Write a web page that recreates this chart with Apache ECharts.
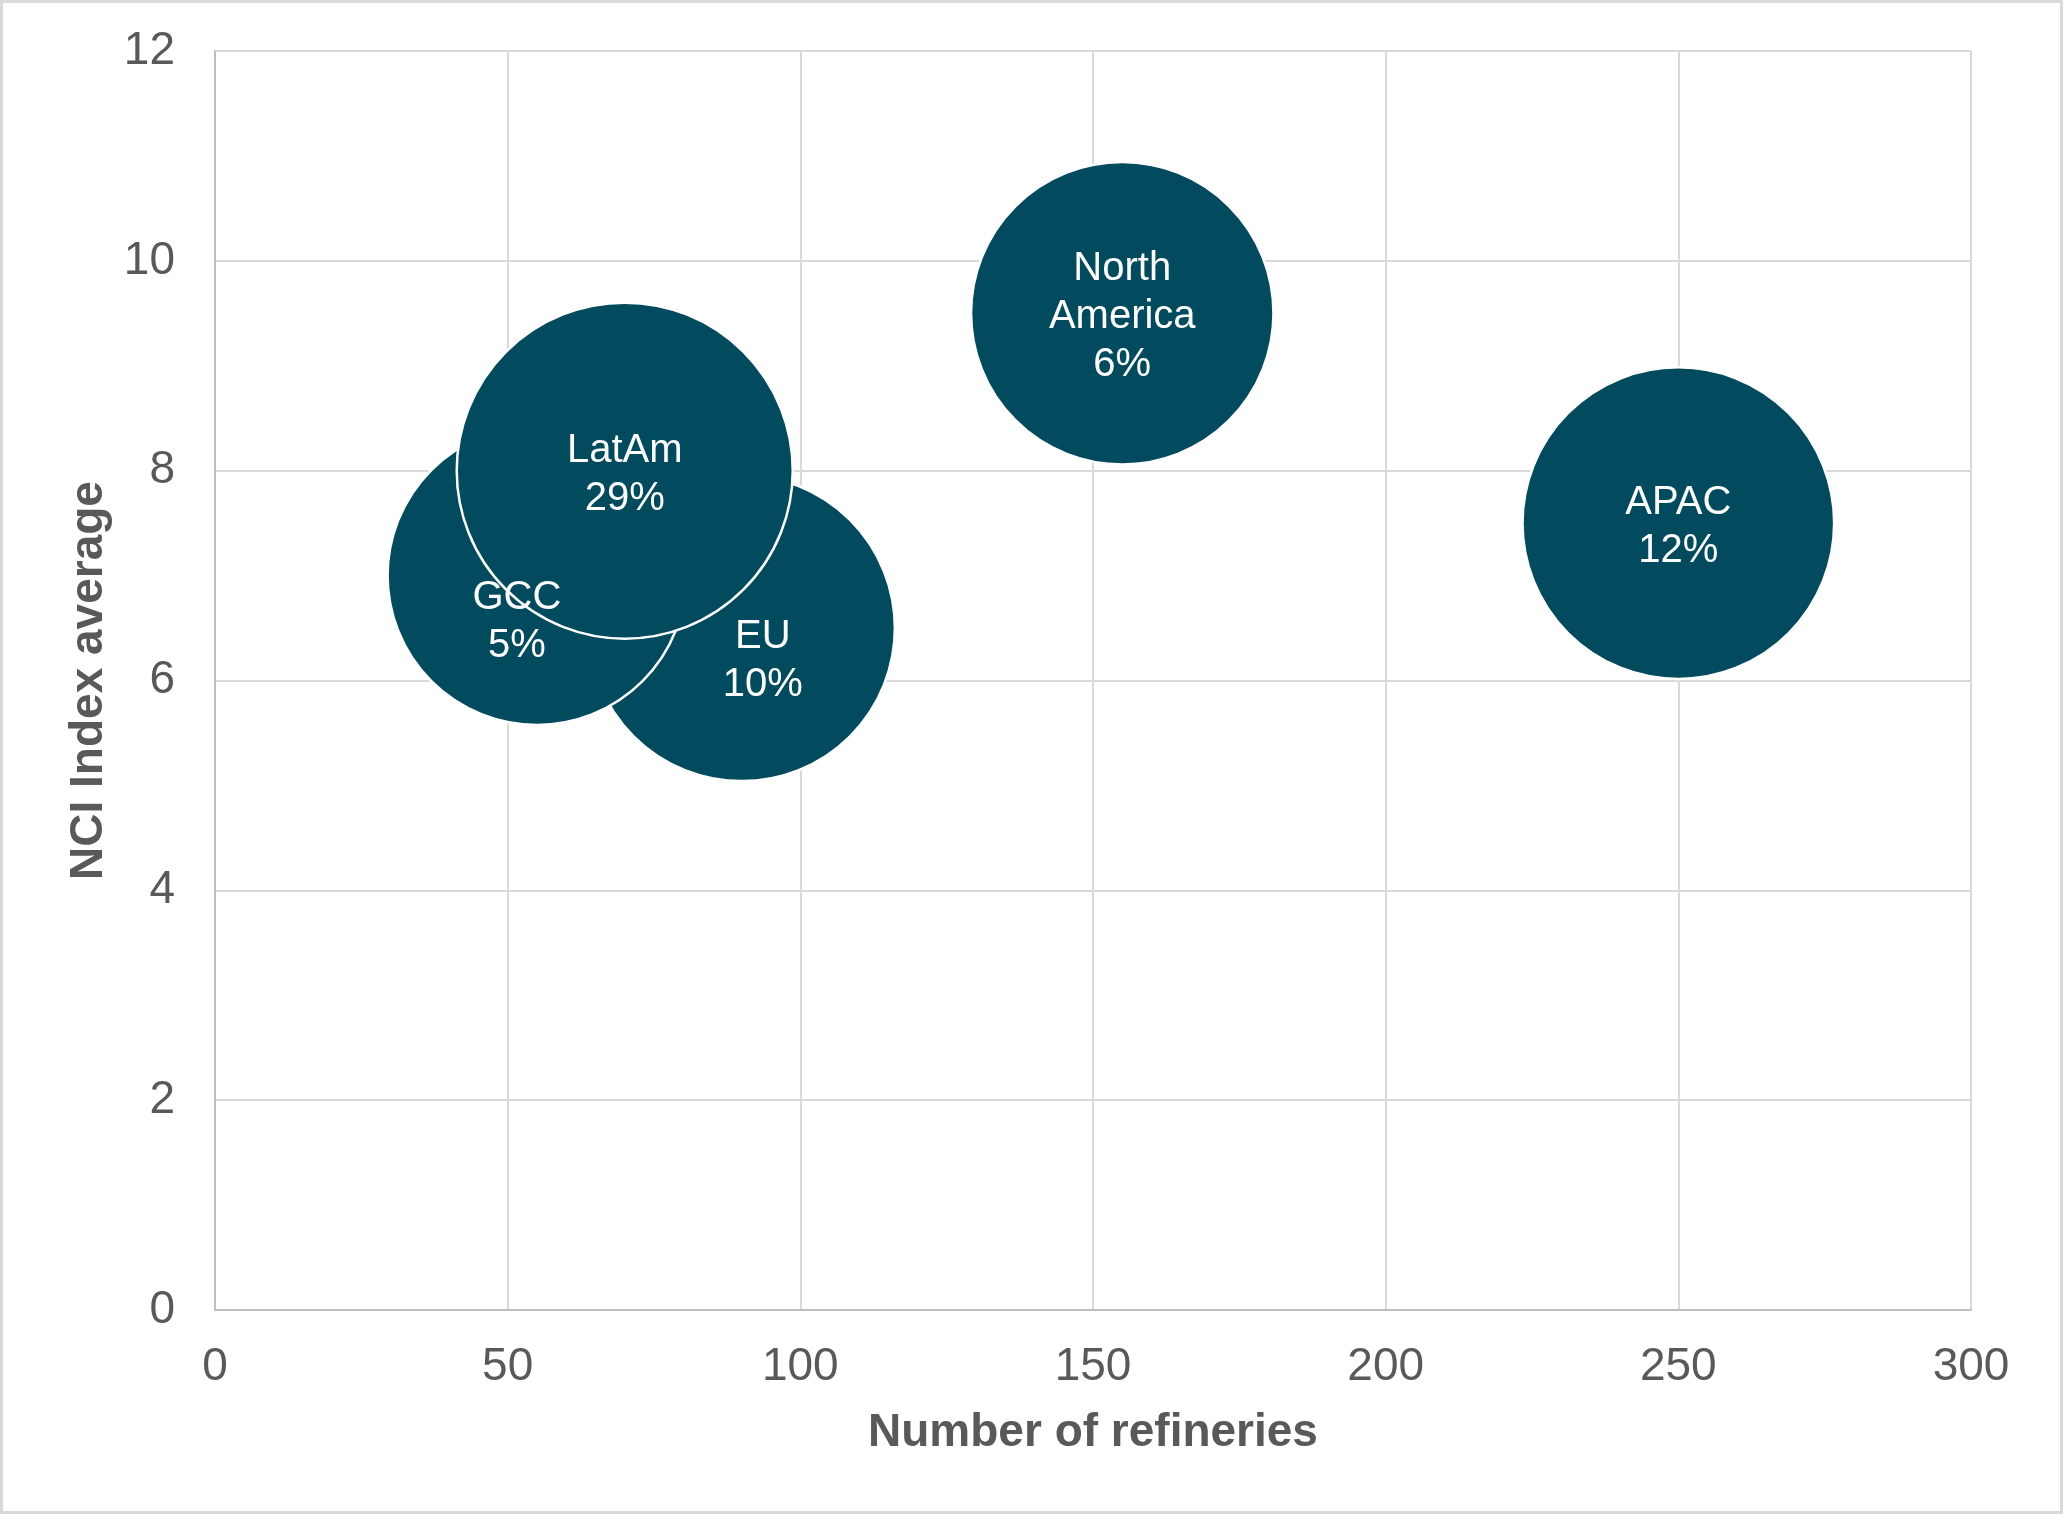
<!DOCTYPE html>
<html>
<head>
<meta charset="utf-8">
<script src="https://cdn.jsdelivr.net/npm/echarts@6/dist/echarts.min.js"></script>
<style>
  html, body { margin: 0; padding: 0; background: #fff; }
  #chart { width: 2063px; height: 1514px; }
</style>
</head>
<body>
<div id="chart"></div>
<script>
// regions, drawn in this order (later ones sit on top)
const regions = ['EU', 'GCC', 'LatAm', 'North America', 'APAC'];
const refineries = [90, 55, 70, 155, 250];
const nciAverage = [6.5, 7, 8, 9.5, 7.5];
const sharePct = [10, 5, 29, 6, 12];
const bubbleSize = [83, 79, 100, 81, 86];

const xTicks = [0, 50, 100, 150, 200, 250, 300];
const yTicks = [0, 2, 4, 6, 8, 10, 12];

// a couple of labels were nudged off-centre in the original
const labelNudge = { EU: [21, 33], GCC: [-20, 46] };

const BUBBLE = '#024A5E';
const TEXT = '#595959';
const FONT = '"Liberation Sans", Arial, sans-serif';
const MAX_D = 336;
const maxSize = Math.max(...bubbleSize);

const points = regions.map((name, i) => ({
  name: name,
  value: [refineries[i], nciAverage[i], bubbleSize[i], sharePct[i]],
  label: { offset: labelNudge[name] || [0, 4] }
}));

const chart = echarts.init(document.getElementById('chart'));
chart.setOption({
  animation: false,
  backgroundColor: '#fff',
  textStyle: { fontFamily: FONT },
  graphic: [{
    type: 'rect',
    shape: { x: 1.5, y: 1.5, width: 2060, height: 1511 },
    style: { fill: 'none', stroke: '#d9d9d9', lineWidth: 3 },
    silent: true
  }],
  grid: { left: 215, right: 92, top: 51, bottom: 204, outerBoundsMode: 'none' },
  xAxis: {
    type: 'value',
    min: xTicks[0],
    max: xTicks[xTicks.length - 1],
    interval: xTicks[1] - xTicks[0],
    name: 'Number of refineries',
    nameLocation: 'middle',
    nameGap: 100,
    nameTextStyle: { fontSize: 46, fontWeight: 'bold', color: TEXT, fontFamily: FONT },
    axisLine: { show: true, onZero: false, lineStyle: { color: '#bfbfbf', width: 2 } },
    axisTick: { show: false },
    axisLabel: { fontSize: 46, color: TEXT, margin: 34, fontFamily: FONT, lineHeight: 46 },
    splitLine: { show: true, lineStyle: { color: '#d9d9d9', width: 2 } }
  },
  yAxis: {
    type: 'value',
    min: yTicks[0],
    max: yTicks[yTicks.length - 1],
    interval: yTicks[1] - yTicks[0],
    name: 'NCI Index average',
    nameLocation: 'middle',
    nameGap: 103,
    nameRotate: 90,
    nameTextStyle: { fontSize: 46, fontWeight: 'bold', color: TEXT, fontFamily: FONT },
    axisLine: { show: true, onZero: false, lineStyle: { color: '#bfbfbf', width: 2 } },
    axisTick: { show: false },
    axisLabel: { fontSize: 46, color: TEXT, margin: 40, fontFamily: FONT, padding: [6, 0, 0, 0] },
    splitLine: { show: true, lineStyle: { color: '#d9d9d9', width: 2 } }
  },
  series: [{
    type: 'scatter',
    data: points,
    symbol: 'circle',
    symbolSize: (v) => MAX_D * Math.sqrt(v[2] / maxSize),
    itemStyle: { color: BUBBLE, borderColor: '#ffffff', borderWidth: 2.5, opacity: 1 },
    label: {
      show: true,
      position: 'inside',
      color: '#ffffff',
      fontSize: 40,
      lineHeight: 48,
      fontFamily: FONT,
      formatter: (p) => p.name.replace(' ', '\n') + '\n' + p.value[3] + '%'
    },
    emphasis: { disabled: true }
  }]
});
</script>
</body>
</html>
